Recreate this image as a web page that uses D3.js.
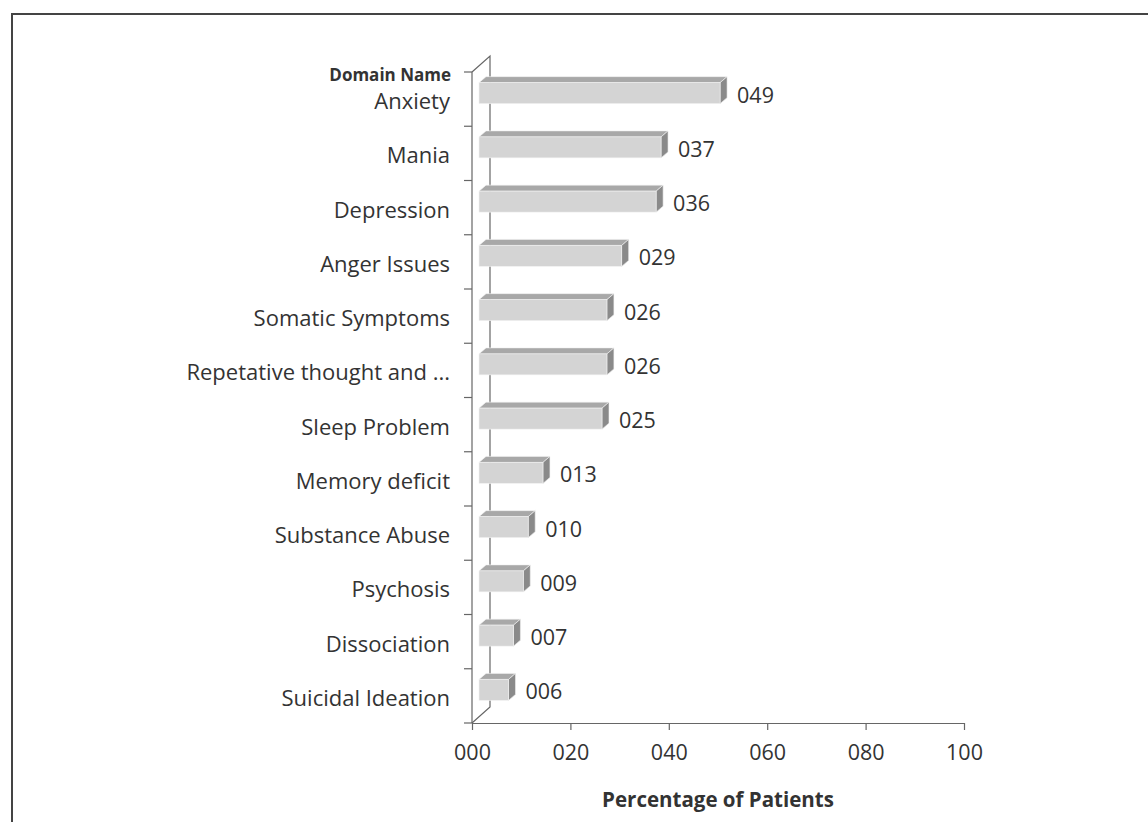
<!DOCTYPE html>
<html>
<head>
<meta charset="utf-8">
<script src="https://cdn.jsdelivr.net/npm/d3@7"></script>
<style>
  body { margin: 0; background: #fff; }
  svg text { font-family: 'Open Sans', sans-serif; fill: #333; }
</style>
</head>
<body>
<svg id="canvas"></svg>
<script>
const domains = [
  'Anxiety', 'Mania', 'Depression', 'Anger Issues', 'Somatic Symptoms',
  'Repetative thought and ...', 'Sleep Problem', 'Memory deficit',
  'Substance Abuse', 'Psychosis', 'Dissociation', 'Suicidal Ideation'
];
const percentages = [49, 37, 36, 29, 26, 26, 25, 13, 10, 9, 7, 6];
const tickValues = [0, 20, 40, 60, 80, 100];

const width = 1148;
const height = 822;

const canvas = d3.select('#canvas').attr('width', width).attr('height', height);

// frame (top + left only, as in the original)
canvas.append('path')
  .attr('d', 'M12,822 L12,14 L1148,14')
  .attr('fill', 'none')
  .attr('stroke', '#444')
  .attr('stroke-width', 2);

const x = d3.scaleLinear().domain([0, 100]).range([472, 964]);
const y = d3.scaleBand().domain(domains).range([72, 723]);

// wall depth and bar depth
const wallDx = 18, wallDy = -16;
const barOffX = 7, barOffY = -6;
const barDx = 7, barDy = -6;
const barH = 21;

const axisColor = '#666';
const labelSize = '21.5px';

// back wall edge + diagonals
const x0 = x(0), yTop = y.range()[0], yBot = y.range()[1];
canvas.append('path')
  .attr('d', `M${x0},${yTop} L${x0 + wallDx},${yTop + wallDy} L${x0 + wallDx},${yBot + wallDy} L${x0},${yBot}`)
  .attr('fill', 'none')
  .attr('stroke', axisColor)
  .attr('stroke-width', 1.2);

// front y axis line with ticks at band edges
canvas.append('line')
  .attr('x1', x0).attr('x2', x0)
  .attr('y1', yTop).attr('y2', yBot)
  .attr('stroke', axisColor).attr('stroke-width', 1.2);

const edges = domains.map(d => y(d)).concat([yBot]);
canvas.selectAll('.ytick')
  .data(edges)
  .enter()
  .append('line')
  .attr('class', 'ytick')
  .attr('x1', x0 - 8).attr('x2', x0)
  .attr('y1', d => d).attr('y2', d => d)
  .attr('stroke', axisColor).attr('stroke-width', 1.2);

// x axis
const xAxis = d3.axisBottom(x)
  .tickValues(tickValues)
  .tickFormat(d3.format('03d'))
  .tickSize(7)
  .tickSizeOuter(0);

const gx = canvas.append('g')
  .attr('transform', `translate(0,${yBot})`)
  .call(xAxis);
gx.select('.domain').attr('stroke', axisColor).attr('stroke-width', 1.2);
gx.selectAll('.tick line').attr('stroke', axisColor).attr('stroke-width', 1.2);
gx.selectAll('.tick text')
  .attr('y', 22)
  .style('font-size', labelSize)
  .style('font-family', "'Open Sans', sans-serif")
  .attr('fill', '#333');

// y labels
canvas.selectAll('.ylabel')
  .data(domains)
  .enter()
  .append('text')
  .attr('class', 'ylabel')
  .attr('x', 450)
  .attr('y', d => y(d) + y.bandwidth() / 2 + 1)
  .attr('text-anchor', 'end')
  .attr('dominant-baseline', 'central')
  .style('font-size', '22px')
  .text(d => d);

// bars (3D boxes)
const bars = canvas.selectAll('.bar')
  .data(domains.map((d, i) => ({ name: d, value: percentages[i] })))
  .enter()
  .append('g')
  .attr('class', 'bar');

const fx = () => x0 + barOffX;
const fy = d => y(d.name) + y.bandwidth() / 2 + barOffY - barH / 2;
const fw = d => x(d.value) - x0;

bars.append('path')
  .attr('d', d => {
    const l = fx(), t = fy(d), r = l + fw(d);
    return `M${l},${t} L${l + barDx},${t + barDy} L${r + barDx},${t + barDy} L${r},${t} Z`;
  })
  .attr('fill', '#a8a8a8')
  .attr('stroke', '#f2f2f2').attr('stroke-width', 0.6);

bars.append('path')
  .attr('d', d => {
    const t = fy(d), r = fx() + fw(d);
    return `M${r},${t} L${r + barDx},${t + barDy} L${r + barDx},${t + barDy + barH} L${r},${t + barH} Z`;
  })
  .attr('fill', '#8a8a8a')
  .attr('stroke', '#f2f2f2').attr('stroke-width', 0.6);

bars.append('rect')
  .attr('x', fx)
  .attr('y', fy)
  .attr('width', fw)
  .attr('height', barH)
  .attr('fill', '#d4d4d4')
  .attr('stroke', '#f2f2f2').attr('stroke-width', 0.6);

bars.append('text')
  .attr('x', d => fx() + fw(d) + barDx + 10)
  .attr('y', d => fy(d) + barH / 2 + 1)
  .attr('dominant-baseline', 'central')
  .style('font-size', labelSize)
  .text(d => d3.format('03d')(d.value));

// titles
canvas.append('text')
  .attr('x', 451)
  .attr('y', 74)
  .attr('text-anchor', 'end')
  .attr('dominant-baseline', 'central')
  .style('font-size', '17px')
  .style('font-weight', 'bold')
  .text('Domain Name');

canvas.append('text')
  .attr('x', (x(0) + x(100)) / 2)
  .attr('y', 799)
  .attr('text-anchor', 'middle')
  .attr('dominant-baseline', 'central')
  .style('font-size', '20.5px')
  .style('font-weight', 'bold')
  .text('Percentage of Patients');
</script>
</body>
</html>
